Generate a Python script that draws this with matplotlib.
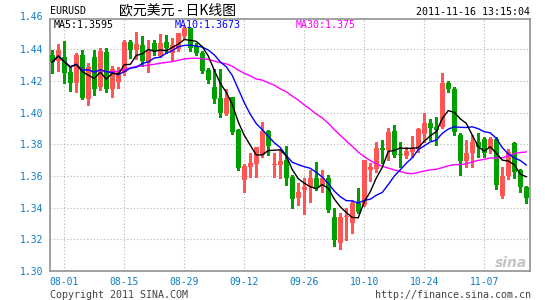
import matplotlib
matplotlib.use('Agg')
import matplotlib.pyplot as plt
import matplotlib.transforms as mtransforms
import numpy as np
import pandas as pd

# ---- data ----
tick_labels = ['08-01', '08-15', '08-29', '09-12', '09-26', '10-10', '10-24', '11-07']
tick_index = [2, 12, 22, 32, 42, 52, 62, 72]

opens = [1.4362, 1.4325, 1.4350, 1.4257, 1.4184, 1.4366, 1.4085, 1.4352, 1.4158, 1.4383,
         1.4146, 1.4194, 1.4257, 1.4444, 1.4395, 1.4427, 1.4312, 1.4438, 1.4354, 1.4444,
         1.4375, 1.4402, 1.4480, 1.4532, 1.4417, 1.4375, 1.4270, 1.4163, 1.4089, 1.3990,
         1.4095, 1.3890, 1.3575, 1.3659, 1.3676, 1.3732, 1.3883, 1.3667, 1.3669, 1.3700,
         1.3591, 1.3459, 1.3508, 1.3533, 1.3585, 1.3543, 1.3585, 1.3339, 1.3176, 1.3338,
         1.3302, 1.3428, 1.3417, 1.3638, 1.3642, 1.3774, 1.3764, 1.3883, 1.3739, 1.3726,
         1.3753, 1.3768, 1.3865, 1.3936, 1.3911, 1.3911, 1.4188, 1.4150, 1.3858, 1.3697,
         1.3747, 1.3816, 1.3831, 1.3768, 1.3831, 1.3474, 1.3600, 1.3806, 1.3638, 1.3533]
highs = [1.4392, 1.4435, 1.4450, 1.4289, 1.4377, 1.4394, 1.4310, 1.4394, 1.4404, 1.4404,
         1.4293, 1.4289, 1.4457, 1.4459, 1.4505, 1.4480, 1.4459, 1.4459, 1.4495, 1.4490,
         1.4469, 1.4501, 1.4543, 1.4536, 1.4438, 1.4385, 1.4280, 1.4272, 1.4272, 1.4146,
         1.4100, 1.3894, 1.3676, 1.3743, 1.3785, 1.3942, 1.3890, 1.3743, 1.3764, 1.3789,
         1.3606, 1.3558, 1.3585, 1.3638, 1.3690, 1.3638, 1.3606, 1.3396, 1.3365, 1.3396,
         1.3449, 1.3522, 1.3701, 1.3684, 1.3816, 1.3827, 1.3900, 1.3921, 1.3816, 1.3785,
         1.3852, 1.3900, 1.3995, 1.3957, 1.3969, 1.4251, 1.4200, 1.4160, 1.3873, 1.3827,
         1.3858, 1.3869, 1.3848, 1.3848, 1.3848, 1.3655, 1.3768, 1.3816, 1.3642, 1.3537]
lows = [1.4247, 1.4260, 1.4185, 1.4135, 1.4131, 1.4085, 1.4047, 1.4110, 1.4142, 1.4131,
        1.4100, 1.4152, 1.4236, 1.4343, 1.4340, 1.4291, 1.4255, 1.4364, 1.4348, 1.4375,
        1.4322, 1.4385, 1.4469, 1.4385, 1.4364, 1.4249, 1.4186, 1.4058, 1.3970, 1.3984,
        1.3865, 1.3638, 1.3501, 1.3592, 1.3592, 1.3722, 1.3732, 1.3596, 1.3585, 1.3543,
        1.3396, 1.3417, 1.3361, 1.3438, 1.3512, 1.3501, 1.3375, 1.3155, 1.3138, 1.3197,
        1.3239, 1.3365, 1.3407, 1.3571, 1.3627, 1.3680, 1.3701, 1.3722, 1.3659, 1.3711,
        1.3722, 1.3753, 1.3816, 1.3827, 1.3795, 1.3900, 1.4131, 1.3860, 1.3606, 1.3655,
        1.3655, 1.3722, 1.3722, 1.3743, 1.3518, 1.3459, 1.3579, 1.3585, 1.3501, 1.3432]
closes = [1.4318, 1.4395, 1.4250, 1.4188, 1.4366, 1.4089, 1.4284, 1.4146, 1.4389, 1.4146,
          1.4272, 1.4257, 1.4446, 1.4396, 1.4430, 1.4322, 1.4396, 1.4385, 1.4438, 1.4406,
          1.4427, 1.4501, 1.4532, 1.4410, 1.4375, 1.4259, 1.4207, 1.4083, 1.3999, 1.4089,
          1.3879, 1.3652, 1.3663, 1.3684, 1.3781, 1.3883, 1.3789, 1.3674, 1.3696, 1.3585,
          1.3455, 1.3501, 1.3533, 1.3585, 1.3522, 1.3585, 1.3386, 1.3193, 1.3339, 1.3344,
          1.3428, 1.3375, 1.3701, 1.3655, 1.3774, 1.3764, 1.3879, 1.3732, 1.3732, 1.3757,
          1.3774, 1.3896, 1.3936, 1.3900, 1.3890, 1.4188, 1.4146, 1.3880, 1.3697, 1.3747,
          1.3816, 1.3781, 1.3743, 1.3831, 1.3543, 1.3600, 1.3753, 1.3627, 1.3533, 1.3459]

y_ticks = [1.30, 1.32, 1.34, 1.36, 1.38, 1.40, 1.42, 1.44, 1.46]

# ---- style ----
RED = '#ff5555'
GREEN = '#00a000'
BLUE_TXT = '#0c7cc4'
MONO = 'DejaVu Sans Mono'

W, H = 545, 300
fig = plt.figure(figsize=(W / 100, H / 100), dpi=100)
fig.patch.set_facecolor('white')
ax = fig.add_axes([50 / W, 1 - 271 / H, 480 / W, 252 / H])

o = np.array(opens); h = np.array(highs); l = np.array(lows); c = np.array(closes)
x = np.arange(len(o))
cols = np.where(c >= o, RED, GREEN)

ax.vlines(x, l, h, colors=cols, lw=1.0, antialiased=False, zorder=2)
bottom = np.minimum(o, c)
height = np.maximum(np.abs(c - o), 0.0004)
ax.bar(x, height, 0.78, bottom=bottom, color=cols, lw=0, antialiased=False, zorder=3)

s = pd.Series(c)
ma5 = s.rolling(5, min_periods=1).mean()
ma10 = s.rolling(10, min_periods=1).mean()
ma30 = s.rolling(30, min_periods=1).mean()
ax.plot(x, ma30, color='#ff00ff', lw=1.0, zorder=4)
ax.plot(x, ma10, color='#0000ff', lw=1.0, zorder=5)
ax.plot(x, ma5, color='black', lw=1.0, zorder=6)

ax.set_xlim(-0.38, len(o) - 0.38)
ax.set_ylim(1.30, 1.459)

ax.set_yticks(y_ticks[:-1])
ax.set_yticklabels(['%.2f' % v for v in y_ticks[:-1]])
ax.set_xticks(tick_index)
ax.set_xticklabels(tick_labels)
ax.tick_params(length=0, labelsize=7, labelcolor=BLUE_TXT)
ax.tick_params(axis='y', pad=4.5)
ax.tick_params(axis='x', pad=4.0)
for lab in ax.get_xticklabels() + ax.get_yticklabels():
    lab.set_family(MONO)

trans = mtransforms.blended_transform_factory(ax.transAxes, ax.transData)
ax.text(-6.3 / 480, y_ticks[-1], '%.2f' % y_ticks[-1], transform=trans, ha='right', va='center',
        fontsize=7, color=BLUE_TXT, family=MONO, clip_on=False)

ax.grid(True, color='#b4b4b4', lw=0.8, linestyle=(0, (1, 2)))
ax.set_axisbelow(True)
for sp in ax.spines.values():
    sp.set_color('#9a9a9a')
    sp.set_linewidth(1.3)

def ftext(px, py, s, **kw):
    fig.text(px / W, 1 - py / H, s, **kw)

ftext(50, 11, 'EURUSD', ha='left', va='center', fontsize=7.2, family=MONO, color='black')
ftext(119, 10.5, '欧元美元 - 日K线图', ha='left', va='center', fontsize=10,
      family=['Noto Sans CJK SC', 'DejaVu Sans'], color='black')
ftext(530, 12, '2011-11-16 13:15:04', ha='right', va='center', fontsize=7.2, family=MONO, color='black')

ftext(54, 25, 'MA5:1.3595', ha='left', va='center', fontsize=7.2, family=MONO, color='black')
ftext(175, 25, 'MA10:1.3673', ha='left', va='center', fontsize=7.2, family=MONO, color='#0000ff')
ftext(296, 25, 'MA30:1.375', ha='left', va='center', fontsize=7.2, family=MONO, color='#ff00ff')

ftext(50, 294.5, 'Copyright 2011 SINA.COM', ha='left', va='center', fontsize=7.2, family=MONO, color='#444444')
ftext(531, 294.5, 'http://finance.sina.com.cn', ha='right', va='center', fontsize=7.2, family=MONO, color='#444444')

ftext(527, 263, 'sina', ha='right', va='center', fontsize=10, fontstyle='italic', fontweight='bold',
      family='DejaVu Sans', color='#c4c4c4')

fig.savefig('out.png', dpi=100, facecolor='white')
